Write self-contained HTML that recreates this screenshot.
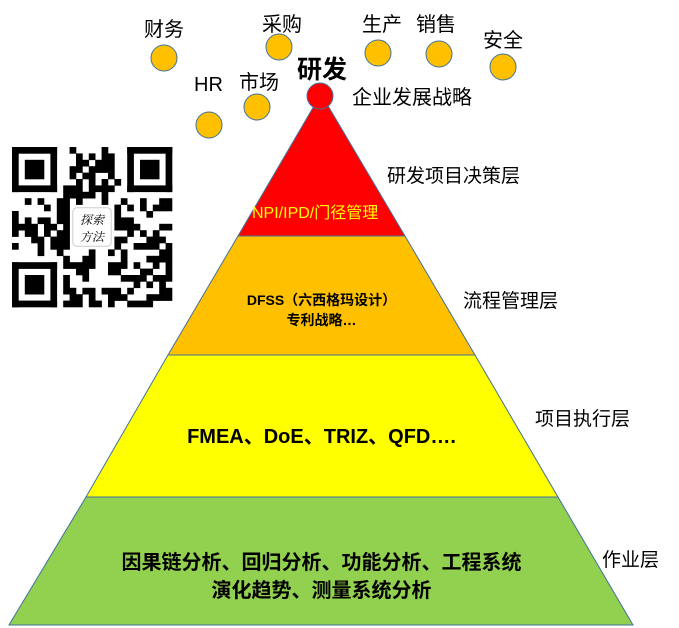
<!DOCTYPE html>
<html><head><meta charset="utf-8"><style>
body{margin:0;background:#fff;width:679px;height:628px;overflow:hidden;position:relative;font-family:"Liberation Sans","Noto Sans CJK SC",sans-serif;}
.t{position:absolute;white-space:nowrap;color:#000;}
</style></head><body>
<svg width="679" height="628" style="position:absolute;left:0;top:0" xmlns="http://www.w3.org/2000/svg">
<g stroke="#41719c" stroke-width="1">
<polygon points="321,94 238,236 405,236" fill="#ff0000"/>
<polygon points="238,236 405,236 475,355 168,355" fill="#ffc000"/>
<polygon points="168,355 475,355 558,497 86,497" fill="#ffff00"/>
<polygon points="86,497 558,497 633,625 9,625" fill="#92d050"/>
<circle cx="320" cy="96" r="13" fill="#ff0000"/>
<circle cx="164" cy="58" r="13" fill="#ffc000"/>
<circle cx="209" cy="125" r="13" fill="#ffc000"/>
<circle cx="257" cy="107" r="13" fill="#ffc000"/>
<circle cx="279" cy="47" r="13" fill="#ffc000"/>
<circle cx="378" cy="53" r="13" fill="#ffc000"/>
<circle cx="439" cy="54" r="13" fill="#ffc000"/>
<circle cx="503" cy="67" r="13" fill="#ffc000"/>
</g>
<g id="qr"></g>
</svg>
<div class="t" style="left:144px;top:13px;font-size:20px">财务</div>
<div class="t" style="left:194px;top:74px;font-size:20px">HR</div>
<div class="t" style="left:239px;top:66px;font-size:20px">市场</div>
<div class="t" style="left:262px;top:8px;font-size:20px">采购</div>
<div class="t" style="left:362px;top:8px;font-size:20px">生产</div>
<div class="t" style="left:416px;top:8px;font-size:20px">销售</div>
<div class="t" style="left:483px;top:24px;font-size:20px">安全</div>
<div class="t" style="left:297px;top:50px;font-size:25px;font-weight:bold">研发</div>
<div class="t" style="left:352px;top:81px;font-size:20px">企业发展战略</div>
<div class="t" style="left:387px;top:161px;font-size:19px">研发项目决策层</div>
<div class="t" style="left:463px;top:286px;font-size:19px">流程管理层</div>
<div class="t" style="left:535px;top:404px;font-size:19px">项目执行层</div>
<div class="t" style="left:602px;top:545px;font-size:19px">作业层</div>
<div class="t" style="left:252px;top:199px;font-size:16px;color:#ffff00">NPI/IPD/门径管理</div>
<div class="t" style="left:0;width:643px;text-align:center;top:290px;font-size:14px;line-height:20px;font-weight:bold">DFSS（六西格玛设计）<br>专利战略…</div>
<div class="t" style="left:0;width:643px;text-align:center;top:420px;font-size:20px;font-weight:bold">FMEA、DoE、TRIZ、QFD….</div>
<div class="t" style="left:0;width:643px;text-align:center;top:549px;font-size:20px;line-height:28px;font-weight:bold">因果链分析、回归分析、功能分析、工程系统<br>演化趋势、测量系统分析</div>
<script>
(function(){
var g=document.getElementById('qr'),N=25,s=6.4,x0=12,y0=147,h='';
var seed=12345;function r(){seed=(seed*1103515245+12345)&0x7fffffff;return seed/0x7fffffff;}
function rect(x,y,w,hh){h+='<rect x="'+(x0+x*s).toFixed(2)+'" y="'+(y0+y*s).toFixed(2)+'" width="'+(w*s+0.3).toFixed(2)+'" height="'+(hh*s+0.3).toFixed(2)+'" fill="#000"/>';}
function inF(x,y){return (x<8&&y<8)||(x>16&&y<8)||(x<8&&y>16);}
for(var y=0;y<N;y++)for(var x=0;x<N;x++){if(inF(x,y))continue;if(x>=9&&x<=15&&y>=9&&y<=15)continue;if(r()<0.5)rect(x,y,1,1);}
[[0,0],[18,0],[0,18]].forEach(function(p){var x=p[0],y=p[1];
rect(x,y,7,1);rect(x,y+6,7,1);rect(x,y,1,7);rect(x+6,y,1,7);rect(x+2,y+2,3,3);});
h+='<rect x="'+(x0+9.5*s)+'" y="'+(y0+9.5*s)+'" width="'+(6*s)+'" height="'+(6*s)+'" rx="4" fill="#fff" stroke="#ccc"/>';
h+='<text x="'+(x0+12.5*s)+'" y="'+(y0+12*s)+'" font-size="12" text-anchor="middle" font-style="italic" font-family="Noto Serif CJK SC,serif">探索</text>';
h+='<text x="'+(x0+12.5*s)+'" y="'+(y0+14.7*s)+'" font-size="12" text-anchor="middle" font-style="italic" font-family="Noto Serif CJK SC,serif">方法</text>';
g.innerHTML=h;})();
</script>
</body></html>
